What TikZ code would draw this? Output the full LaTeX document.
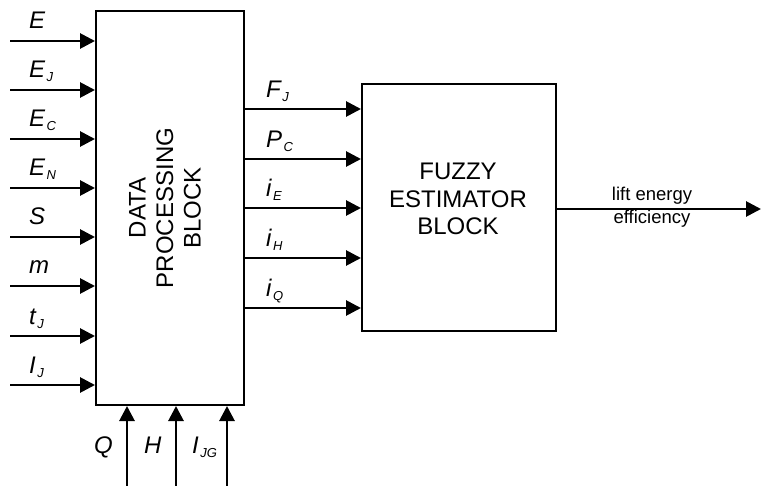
\documentclass[tikz,border=0pt]{standalone}
\usepackage{fontspec}
\setmainfont{Liberation Sans}
\usetikzlibrary{arrows.meta}
\newcommand{\sbs}[1]{\hspace{1.5pt}\raisebox{-4pt}{\fontsize{13}{13}\selectfont\itshape #1}}
\begin{document}
\begin{tikzpicture}[x=1pt,y=-1pt,
  sig/.style={line width=2.8pt,-{Triangle[length=15pt,width=15pt]}},
  blk/.style={draw,line width=2pt,inner sep=0pt},
  lab/.style={font=\fontsize{24}{24}\selectfont\itshape,anchor=base west,inner sep=0pt},
  btxt/.style={font=\fontsize{24}{27.5}\selectfont,align=center,inner sep=0pt}]
\useasboundingbox (0,0) rectangle (763,486);
% blocks
\node[blk,minimum width=148pt,minimum height=394pt,anchor=north west] (dp) at (95,10) {};
\node[blk,minimum width=194pt,minimum height=247pt,anchor=north west] (fz) at (361,83) {};
\node[btxt,rotate=90] (dpt) at (165,208) {DATA\\PROCESSING\\BLOCK};
\node[btxt] (fzt) at (458,199) {FUZZY\\ESTIMATOR\\BLOCK};
% left inputs
\foreach \n/\yy/\t in {1/41/{E},2/90/{E\sbs{J}},3/139/{E\sbs{C}},4/188/{E\sbs{N}},5/237/{S},6/286/{m},7/336/{t\sbs{J}},8/385/{I\sbs{J}}}{
  \coordinate (in\n) at (10,\yy);
  \draw[sig] (in\n) -- (in\n -| dp.west);
  \node[lab] (lin\n) at (29,\yy-12) {\t};
}
% bottom inputs
\foreach \n/\xx in {1/127,2/176,3/227}{
  \coordinate (bin\n) at (\xx,486);
  \draw[sig] (bin\n) -- (bin\n |- dp.south);
}
\node[lab] (lb1) at (94,453) {Q};
\node[lab] (lb2) at (144,453) {H};
\node[lab] (lb3) at (192,453) {I\sbs{JG}};
% middle signals
\foreach \n/\yy/\t in {1/109/{F\sbs{J}},2/159/{P\sbs{C}},3/208/{i\sbs{E}},4/258/{i\sbs{H}},5/308/{i\sbs{Q}}}{
  \coordinate (mid\n) at (243,\yy);
  \draw[sig] (mid\n -| dp.east) -- (mid\n -| fz.west);
  \node[lab] (lm\n) at (266,\yy-11) {\t};
}
% output
\coordinate (out) at (761,209);
\draw[sig] (out -| fz.east) -- (out);
\node[font=\fontsize{18.5}{18.5}\selectfont,inner sep=0pt,anchor=base] (ol1) at (652,201) {lift energy};
\node[font=\fontsize{18.5}{18.5}\selectfont,inner sep=0pt,anchor=base] (ol2) at (652,224) {efficiency};
\end{tikzpicture}
\end{document}
